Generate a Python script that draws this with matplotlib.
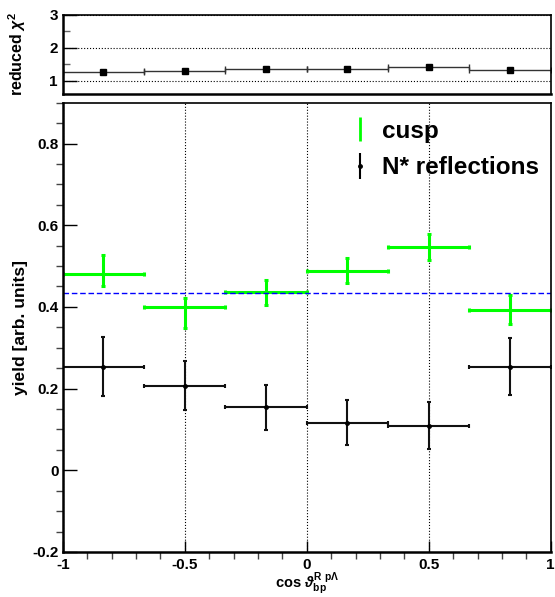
# yield vs cos theta, cusp and N* reflections with reduced chi2 panel
import numpy as np
import matplotlib.pyplot as plt
from matplotlib.lines import Line2D
from matplotlib.ticker import MultipleLocator

plt.rcParams['font.family'] = ['Liberation Sans', 'DejaVu Sans']
plt.rcParams['font.weight'] = 'bold'
plt.rcParams['mathtext.fontset'] = 'custom'
plt.rcParams['mathtext.rm'] = 'Liberation Sans:bold'
plt.rcParams['mathtext.bf'] = 'Liberation Sans:bold'
plt.rcParams['mathtext.it'] = 'Liberation Sans:italic'

# data
bin_centers = [-0.8333, -0.5, -0.1667, 0.1667, 0.5, 0.8333]
bin_halfwidth = [1/6] * 6

cusp = [0.480, 0.400, 0.436, 0.4885, 0.5475, 0.393]
cusp_err_lo = [0.029, 0.052, 0.032, 0.030, 0.032, 0.036]
cusp_err_hi = [0.047, 0.021, 0.030, 0.031, 0.032, 0.036]

nstar = [0.254, 0.207, 0.154, 0.117, 0.109, 0.254]
nstar_err = [0.072, 0.060, 0.055, 0.054, 0.058, 0.069]

cusp_mean = 0.433

chi2 = [1.25, 1.29, 1.36, 1.35, 1.41, 1.31]

green = '#00ff00'

fig = plt.figure(figsize=[5.55, 5.97], dpi=100)
ax_top = fig.add_axes([0.113, 0.8430, 0.8793, 0.1324])
ax = fig.add_axes([0.113, 0.0754, 0.8793, 0.7526])

# top panel: reduced chi2
ax_top.errorbar(bin_centers, chi2, xerr=bin_halfwidth, fmt='s', color='black',
                ecolor='#333333', elinewidth=1.0, capsize=2, capthick=1.0, markersize=5)
ax_top.set_xlim(-1, 1)
ax_top.set_ylim(0.6, 3)
ax_top.set_yticks([1, 2, 3])
ax_top.yaxis.set_minor_locator(MultipleLocator(0.5))
ax_top.set_xticks([])
ax_top.grid(axis='y', linestyle=':', color='black', lw=0.8)
ax_top.tick_params(axis='y', direction='in', length=10, width=1, labelsize=11, pad=3.5)
ax_top.tick_params(axis='y', which='minor', direction='in', length=5, width=1, color='#666666')
ax_top.set_ylabel(r'reduced $\chi^{2}$', fontsize=11.5, fontweight='bold')
ax_top.yaxis.set_label_coords(-0.072, 0.5)

# main panel
ax.errorbar(bin_centers, cusp, xerr=bin_halfwidth, yerr=[cusp_err_lo, cusp_err_hi],
            fmt='none', ecolor=green, elinewidth=2.2, capsize=1.2, capthick=2.2)
ax.errorbar(bin_centers, nstar, xerr=bin_halfwidth, yerr=nstar_err, fmt='o',
            color='black', markersize=2.5, ecolor='#111111', elinewidth=1.5,
            capsize=1.5, capthick=1.5)
ax.axhline(cusp_mean, color='#0000ff', lw=1, dashes=(4, 2))

ax.set_xlim(-1, 1)
ax.set_ylim(-0.2, 0.9)
ax.set_xticks([-1, -0.5, 0, 0.5, 1])
ax.set_xticklabels(['-1', '-0.5', '0', '0.5', '1'])
ax.set_yticks([-0.2, 0, 0.2, 0.4, 0.6, 0.8])
ax.set_yticklabels(['-0.2', '0', '0.2', '0.4', '0.6', '0.8'])
ax.xaxis.set_minor_locator(MultipleLocator(0.1))
ax.yaxis.set_minor_locator(MultipleLocator(0.05))
ax.grid(axis='x', linestyle=':', color='black', lw=0.8)
ax.tick_params(axis='both', direction='in', labelsize=11)
ax.tick_params(axis='x', which='major', length=8, width=1, pad=4)
ax.tick_params(axis='y', which='major', length=10, width=1, pad=3)
ax.tick_params(axis='both', which='minor', length=5, width=1, color='#444444')

for a in (ax, ax_top):
    for s in a.spines.values():
        s.set_linewidth(1.2)
    a.spines['left'].set_linewidth(1.8)
    a.spines['bottom'].set_linewidth(1.8)

ax.set_ylabel('yield [arb. units]', fontsize=12.5, fontweight='bold')
ax.yaxis.set_label_coords(-0.071, 0.5)
ax.set_xlabel(r'cos $\vartheta_{\mathbf{bp}}^{\mathbf{R\ p\Lambda}}$', fontsize=10.5,
              fontweight='bold')
ax.xaxis.set_label_coords(0.5, -0.041)

h_cusp = Line2D([], [], color=green, marker='|', markersize=17, mew=2, linestyle='None')
h_bar = Line2D([], [], color='black', marker='|', markersize=19, mew=1.5, linestyle='None')
h_dot = Line2D([], [], color='black', marker='o', markersize=2.5, linestyle='None')
leg = ax.legend([h_cusp, (h_bar, h_dot)], ['cusp', 'N* reflections'],
                loc='center left', bbox_to_anchor=(0.585, 0.896), frameon=False,
                prop={'size': 17.5, 'weight': 'bold'}, handlelength=1.0,
                handletextpad=0.4, labelspacing=0.55, borderpad=0, borderaxespad=0)

plt.savefig('out.png', dpi=100)
